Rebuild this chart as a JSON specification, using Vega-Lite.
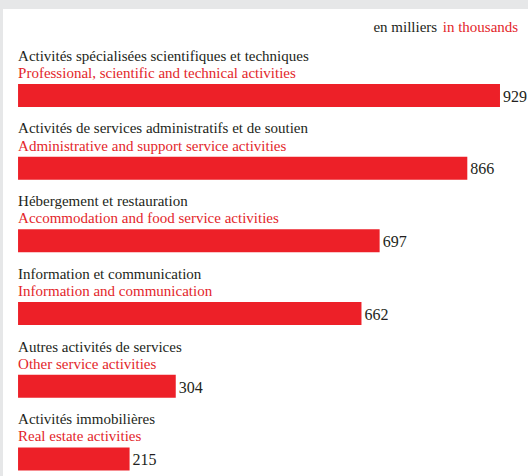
{
  "$schema": "https://vega.github.io/schema/vega-lite/v6.json",
  "width": 528,
  "height": 476,
  "autosize": {"type": "fit", "contains": "padding"},
  "padding": {"left": 3, "top": 9, "right": 0, "bottom": 0},
  "background": "#e6e7e8",
  "config": {"view": {"fill": "white", "stroke": null}},
  "data": {"values": [
    {"fr": "Activités spécialisées scientifiques et techniques", "en": "Professional, scientific and technical activities", "value": 929},
    {"fr": "Activités de services administratifs et de soutien", "en": "Administrative and support service activities", "value": 866},
    {"fr": "Hébergement et restauration", "en": "Accommodation and food service activities", "value": 697},
    {"fr": "Information et communication", "en": "Information and communication", "value": 662},
    {"fr": "Autres activités de services", "en": "Other service activities", "value": 304},
    {"fr": "Activités immobilières", "en": "Real estate activities", "value": 215}
  ]},
  "encoding": {
    "y": {"field": "fr", "type": "nominal", "sort": null, "axis": null,
          "scale": {"paddingInner": 0, "paddingOuter": 0.212}}
  },
  "layer": [
    {
      "mark": {"type": "bar", "color": "#ed2028", "size": 23, "yOffset": 34.7},
      "encoding": {
        "x": {"field": "value", "type": "quantitative", "axis": null,
              "scale": {"domain": [-29, 983], "nice": false, "zero": false}},
        "x2": {"datum": 0}
      }
    },
    {
      "mark": {"type": "text", "align": "left", "baseline": "middle", "dx": 3, "yOffset": 36, "font": "Liberation Sans Narrow", "fontSize": 16, "color": "#231f20"},
      "encoding": {
        "x": {"field": "value", "type": "quantitative"},
        "text": {"field": "value", "type": "quantitative"}
      }
    },
    {
      "mark": {"type": "text", "align": "left", "baseline": "alphabetic", "yOffset": 0, "font": "Liberation Sans Narrow", "fontSize": 15, "color": "#231f20"},
      "encoding": {
        "x": {"datum": 0, "type": "quantitative"},
        "text": {"field": "fr"}
      }
    },
    {
      "mark": {"type": "text", "align": "left", "baseline": "alphabetic", "yOffset": 17.2, "font": "Liberation Sans Narrow", "fontSize": 15, "color": "#e3262b"},
      "encoding": {
        "x": {"datum": 0, "type": "quantitative"},
        "text": {"field": "en"}
      }
    },
    {
      "data": {"values": [{"fr": "Activités spécialisées scientifiques et techniques", "label": "in thousands"}]},
      "mark": {"type": "text", "align": "right", "baseline": "alphabetic", "yOffset": -28.8, "font": "Liberation Sans Narrow", "fontSize": 15, "color": "#e3262b"},
      "encoding": {
        "x": {"datum": 964, "type": "quantitative"},
        "text": {"field": "label"}
      }
    },
    {
      "data": {"values": [{"fr": "Activités spécialisées scientifiques et techniques", "label": "en milliers"}]},
      "mark": {"type": "text", "align": "right", "baseline": "alphabetic", "yOffset": -28.8, "font": "Liberation Sans Narrow", "fontSize": 15, "color": "#231f20"},
      "encoding": {
        "x": {"datum": 808, "type": "quantitative"},
        "text": {"field": "label"}
      }
    }
  ]
}
